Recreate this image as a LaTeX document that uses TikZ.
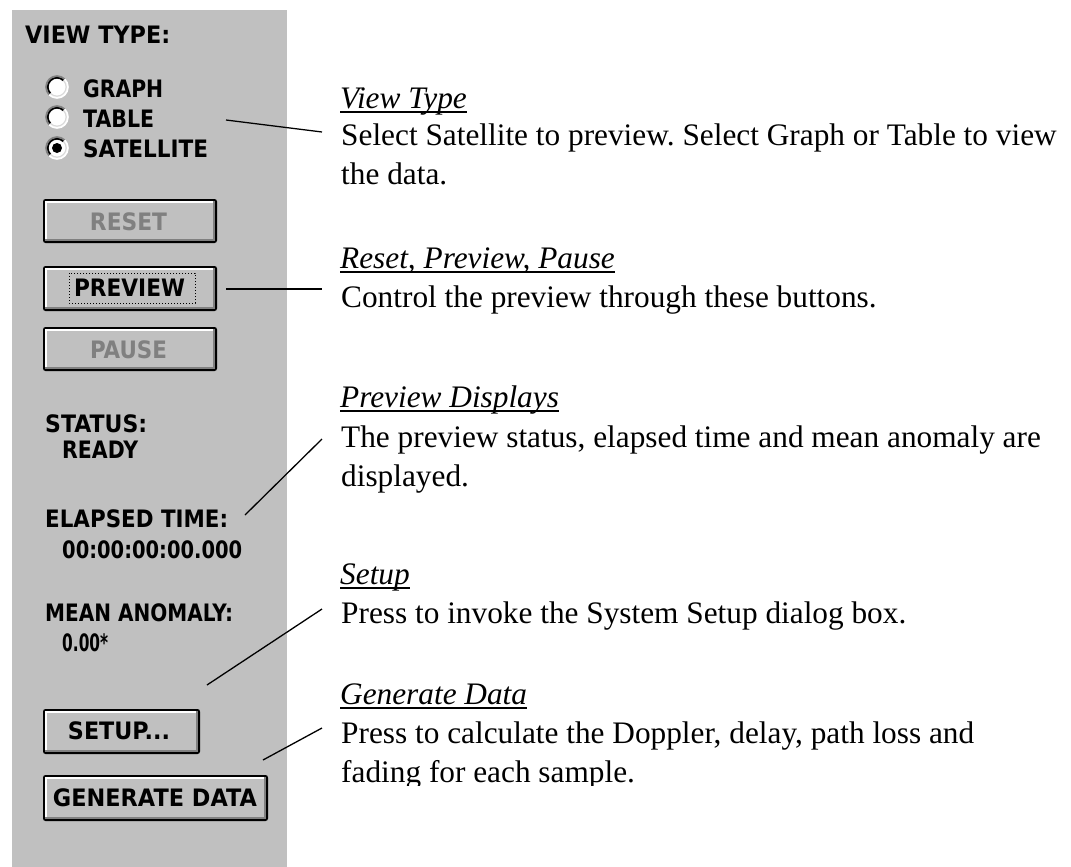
\documentclass[tikz,border=0pt]{standalone}
\usepackage{fontspec}
\usepackage{graphicx}
\setmainfont{Liberation Serif}
\newfontfamily\uifont{DejaVu Sans}
\definecolor{panel}{HTML}{C0C0C0}
\definecolor{shadow}{HTML}{808080}
\newcommand{\fitw}[2]{\resizebox{#1pt}{\height}{#2}}
\newcommand{\winbtn}[4]{%
  \fill[black, rounded corners=2.5pt] (#1,#2) rectangle (#3,#4);
  \fill[shadow] ({#1+2},{#2+2}) rectangle ({#3-2},{#4-2});
  \fill[white] ({#1+2},{#2+2}) rectangle ({#3-4},{#4-4});
  \fill[panel] ({#1+4},{#2+4}) rectangle ({#3-4},{#4-4});
}
\newcommand{\radiobtn}[2]{%
  \fill[white] (#1,#2) circle (10.5);
  \draw[shadow, line width=1.6pt] (#1,#2) ++(135:11) arc[start angle=135, end angle=315, radius=11];
  \draw[white, line width=1.6pt] (#1,#2) ++(315:11) arc[start angle=315, end angle=495, radius=11];
  \draw[black, line width=1.7pt] (#1,#2) ++(135:9.2) arc[start angle=135, end angle=315, radius=9.2];
  \draw[panel!60!white, line width=1.2pt] (#1,#2) ++(315:9.2) arc[start angle=315, end angle=495, radius=9.2];
}
\tikzset{
  ui/.style={inner sep=0pt, font=\uifont\bfseries\fontsize{24}{24}\selectfont, anchor=base west},
  btntext/.style={inner sep=0pt, font=\uifont\bfseries\fontsize{24}{24}\selectfont, anchor=base},
  body/.style={inner sep=0pt, font=\frenchspacing\fontsize{31.3}{39}\selectfont, anchor=base west},
  head/.style={inner sep=0pt, font=\itshape\fontsize{31.3}{39}\selectfont, anchor=base west},
  uline/.style={line width=1.7pt, black},
  leader/.style={line width=1.3pt, black},
}
\begin{document}
\begin{tikzpicture}[x=1pt, y=-1pt]
\useasboundingbox (0,0) rectangle (1071,867);
\fill[white] (0,0) rectangle (1071,867);
% panel
\fill[panel] (12,10) rectangle (287,867);

% view type
\node[ui] (vtlabel) at (25,44) {\fitw{145}{VIEW TYPE:}};
\radiobtn{57}{87}
\radiobtn{57}{117}
\radiobtn{57}{148}
\fill[black] (57,148) circle (5);
\node[ui] (graph) at (83,97) {\fitw{80}{GRAPH}};
\node[ui] (table) at (83,127) {\fitw{71}{TABLE}};
\node[ui] (satellite) at (83,157) {\fitw{125}{SATELLITE}};

% buttons
\winbtn{43}{199}{217}{243}
\node[btntext, text=shadow] (reset) at (128.5,230) {\fitw{77}{RESET}};
\winbtn{43}{266}{217}{311}
\draw[black, line width=1pt, dotted] (69,273) rectangle (195,303);
\node[btntext] (preview) at (129.5,296) {\fitw{111}{PREVIEW}};
\winbtn{43}{327}{217}{371}
\node[btntext, text=shadow] (pause) at (128.5,358) {\fitw{77}{PAUSE}};

% status displays
\node[ui] (status) at (45,432) {\fitw{102}{STATUS:}};
\node[ui] (ready) at (62,458) {\fitw{76}{READY}};
\node[ui] (elapsed) at (45,527) {\fitw{183}{ELAPSED TIME:}};
\node[ui] (elapsedval) at (62,558) {\fitw{180}{00:00:00:00.000}};
\node[ui] (mean) at (45,621) {\fitw{188}{MEAN ANOMALY:}};
\node[ui] (meanval) at (62,651) {\fitw{46}{0.00*}};

\winbtn{43}{709}{200}{754}
\node[btntext] (setup) at (119,739) {\fitw{102}{SETUP...}};
\winbtn{43}{775}{268}{821}
\node[btntext] (generate) at (155,806) {\fitw{204}{GENERATE DATA}};

% descriptions
\node[head] (h1) at (340,108) {View Type};
\draw[uline] ([yshift=-4pt]h1.base west) -- ([yshift=-4pt]h1.base east);
\node[body] (b1a) at (341,145) {Select Satellite to preview. Select Graph or Table to view};
\node[body] (b1b) at (341,184) {the data.};

\node[head] (h2) at (340,268) {Reset, Preview, Pause};
\draw[uline] ([yshift=-4pt]h2.base west) -- ([yshift=-4pt]h2.base east);
\node[body] (b2a) at (341,307) {Control the preview through these buttons.};

\node[head] (h3) at (340,407) {Preview Displays};
\draw[uline] ([yshift=-4pt]h3.base west) -- ([yshift=-4pt]h3.base east);
\node[body] (b3a) at (341,447) {The preview status, elapsed time and mean anomaly are};
\node[body] (b3b) at (341,486) {displayed.};

\node[head] (h4) at (340,584) {Setup};
\draw[uline] ([yshift=-4pt]h4.base west) -- ([yshift=-4pt]h4.base east);
\node[body] (b4a) at (341,623) {Press to invoke the System Setup dialog box.};

\node[head] (h5) at (340,704) {Generate Data};
\draw[uline] ([yshift=-4pt]h5.base west) -- ([yshift=-4pt]h5.base east);
\node[body] (b5a) at (341,743) {Press to calculate the Doppler, delay, path loss and};
\begin{scope}
\clip (330,755) rectangle (1071,785);
\node[body] (b5b) at (341,782) {fading for each sample.};
\end{scope}

% leaders
\coordinate (l1a) at (226,120); \coordinate (l1b) at (322,132);
\coordinate (l2a) at (226,289); \coordinate (l2b) at (322,289);
\coordinate (l3a) at (245,515); \coordinate (l3b) at (322,439);
\coordinate (l4a) at (207,685); \coordinate (l4b) at (322,609);
\coordinate (l5a) at (263,760); \coordinate (l5b) at (322,728);
\draw[leader] (l1a) -- (l1b);
\draw[leader] (l2a) -- (l2b);
\draw[leader] (l3a) -- (l3b);
\draw[leader] (l4a) -- (l4b);
\draw[leader] (l5a) -- (l5b);
\end{tikzpicture}
\end{document}
